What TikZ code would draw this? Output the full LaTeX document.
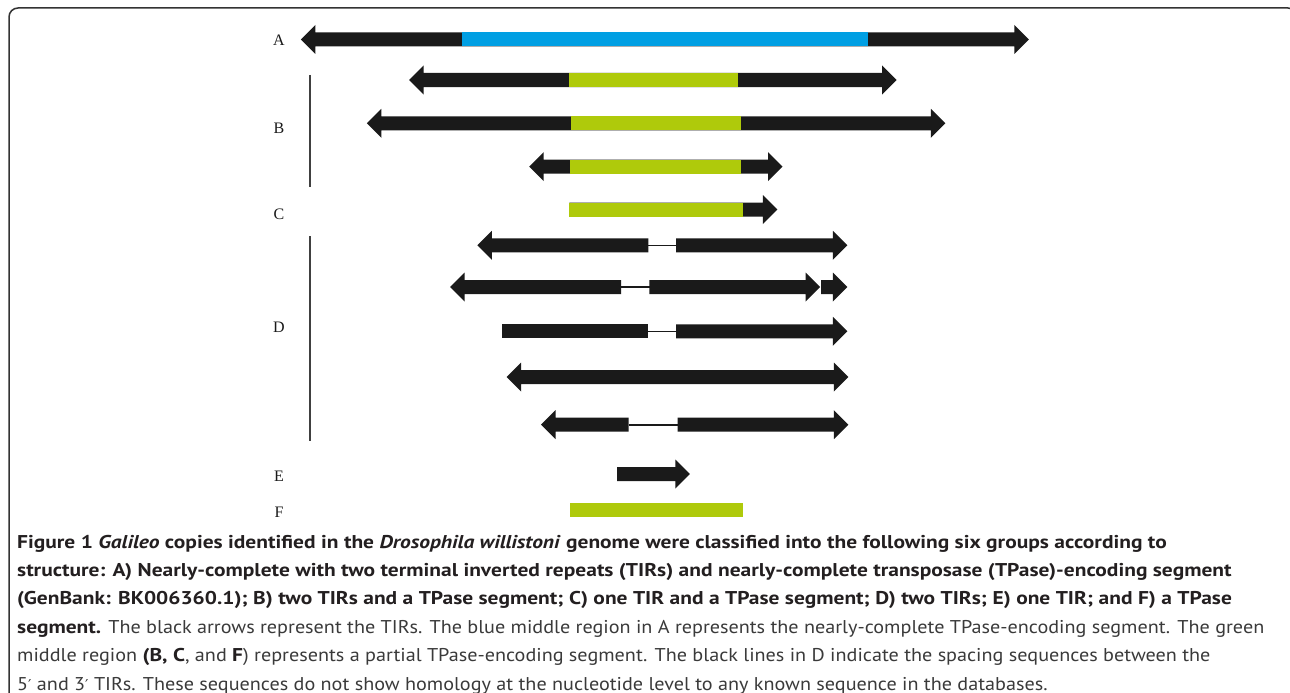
\documentclass[tikz,border=0pt]{standalone}
\usepackage{fontspec}
\setmainfont{PT Sans}[UprightFeatures={FakeStretch=1.09}, ItalicFeatures={FakeStretch=1.09}, BoldFeatures={FakeStretch=1.16}, BoldItalicFeatures={FakeStretch=1.16}]
\newfontfamily\lblfont{Liberation Serif}
\newfontfamily\primefont{DejaVu Sans}
\newcommand\prm{{\primefont\fontsize{15}{18}\selectfont ′}}
\definecolor{tirblack}{HTML}{1A1A1A}
\definecolor{tpblue}{HTML}{009FE3}
\definecolor{tpgreen}{HTML}{AFCA0B}
\definecolor{captext}{HTML}{231F20}
\definecolor{capreg}{HTML}{3A3A3A}
\newcommand\rowdbl[3]{%
  \fill[tirblack] (#2,#1) -- ({#2+14.5},{#1-14.5}) -- ({#2+14.5},{#1-7}) -- ({#3-14.5},{#1-7}) -- ({#3-14.5},{#1-14.5}) -- (#3,#1) -- ({#3-14.5},{#1+14.5}) -- ({#3-14.5},{#1+7}) -- ({#2+14.5},{#1+7}) -- ({#2+14.5},{#1+14.5}) -- cycle;}
\newcommand\rowright[3]{%
  \fill[tirblack] (#2,{#1-7}) -- ({#3-14.5},{#1-7}) -- ({#3-14.5},{#1-14.5}) -- (#3,#1) -- ({#3-14.5},{#1+14.5}) -- ({#3-14.5},{#1+7}) -- (#2,{#1+7}) -- cycle;}
\newcommand\rowleft[3]{%
  \fill[tirblack] (#2,#1) -- ({#2+14.5},{#1-14.5}) -- ({#2+14.5},{#1-7}) -- (#3,{#1-7}) -- (#3,{#1+7}) -- ({#2+14.5},{#1+7}) -- ({#2+14.5},{#1+14.5}) -- cycle;}
\newcommand\midbar[4]{%
  \fill[#4] (#2,{#1-7}) rectangle (#3,{#1+7});}
\newcommand\spacer[3]{%
  \draw[tirblack, line width=1.6pt] (#2,#1) -- (#3,#1);}
\begin{document}
\begin{tikzpicture}[x=1pt,y=-1pt,
  grplabel/.style={font=\lblfont\fontsize{16}{18}\selectfont, text=tirblack, inner sep=0pt, anchor=center},
  capline/.style={anchor=base west, inner sep=0pt, text=captext, font=\fontsize{18.5}{22}\selectfont},
  brace/.style={draw=black!75, line width=1.3pt}]
\useasboundingbox (0,0) rectangle (1290,693);
\fill[white] (0,0) rectangle (1290,693);
\draw[black!80, line width=1.5pt, rounded corners=9pt] (9,8) rectangle (1297,730);
% group labels
\node[grplabel] (la) at (279,40) {A};
\node[grplabel] (lb) at (279,128) {B};
\node[grplabel] (lc) at (279,214) {C};
\node[grplabel] (ld) at (279,327) {D};
\node[grplabel] (le) at (279,476) {E};
\node[grplabel] (lf) at (279,512) {F};
% group bars
\coordinate (bt) at (310,75); \coordinate (bb) at (310,187);
\draw[brace] (bt) -- (bb);
\coordinate (dt) at (310,236); \coordinate (db) at (310,441);
\draw[brace] (dt) -- (db);
% A
\rowdbl{39.5}{300.8}{1028.8}
\midbar{39.5}{461.7}{868.4}{tpblue}
% B
\rowdbl{80}{409}{896.7}
\midbar{80}{569}{738.3}{tpgreen}
\rowdbl{123.3}{366.8}{945.4}
\midbar{123.3}{571}{740.8}{tpgreen}
\rowdbl{166.7}{529.2}{782.5}
\midbar{166.7}{570}{740.8}{tpgreen}
% C
\rowright{209.5}{569.3}{777.3}
\midbar{209.5}{569.3}{742.7}{tpgreen}
% D
\rowleft{245.3}{477.3}{648.3}
\spacer{245.3}{648}{676.5}
\rowright{245.3}{676}{847.3}
\rowleft{287}{450}{621}
\spacer{287}{620.5}{649.5}
\rowright{287}{649.3}{820}
\rowright{287}{821}{847.3}
\midbar{331.3}{501.7}{648.3}{tirblack}
\spacer{331.3}{648}{676.5}
\rowright{331.3}{676}{847.3}
\rowdbl{377}{506.7}{848.3}
\rowleft{424.7}{541}{628.7}
\spacer{424.7}{628.5}{678}
\rowright{424.7}{677.7}{848.3}
% E
\rowright{474}{617}{689.8}
% F
\midbar{510}{570}{743.4}{tpgreen}
% caption
\node[capline] (cap1) at (17,548) {\bfseries Figure 1 \textit{Galileo} copies identified in the \textit{Drosophila willistoni} genome were classified into the following six groups according to};
\node[capline] (cap2) at (17,576.4) {\bfseries structure: A) Nearly-complete with two terminal inverted repeats (TIRs) and nearly-complete transposase (TPase)-encoding segment};
\node[capline] (cap3) at (17,604.8) {\bfseries (GenBank: BK006360.1); B) two TIRs and a TPase segment; C) one TIR and a TPase segment; D) two TIRs; E) one TIR; and F) a TPase};
\node[capline] (cap4) at (17,633.2) {\textbf{segment.} {\color{capreg}The black arrows represent the TIRs. The blue middle region in A represents the nearly-complete TPase-encoding segment. The green}};
\node[capline] (cap5) at (17,661.6) {{\color{capreg}middle region} \textbf{(B, C}{\color{capreg}, and} \textbf{F}{\color{capreg}) represents a partial TPase-encoding segment. The black lines in D indicate the spacing sequences between the}};
\node[capline] (cap6) at (17,690) {\color{capreg}5\prm{} and 3\prm{} TIRs. These sequences do not show homology at the nucleotide level to any known sequence in the databases.};
\end{tikzpicture}
\end{document}
